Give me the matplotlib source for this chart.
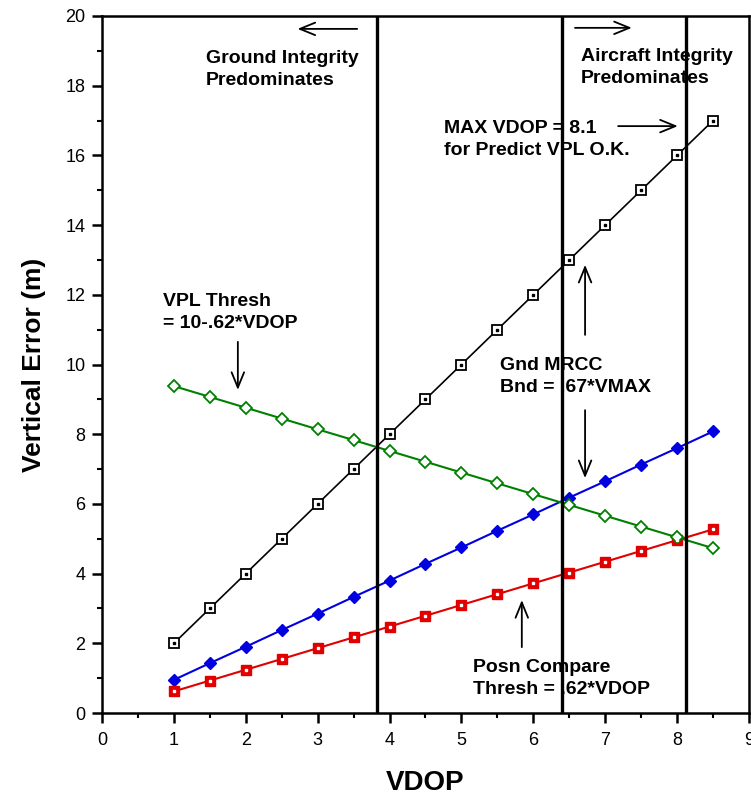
import matplotlib
matplotlib.use("Agg")
import matplotlib.pyplot as plt
from matplotlib.ticker import MultipleLocator

plt.rcParams['font.family'] = ['Liberation Sans', 'DejaVu Sans']

vdop = [1.0, 1.5, 2.0, 2.5, 3.0, 3.5, 4.0, 4.5, 5.0, 5.5, 6.0, 6.5, 7.0, 7.5, 8.0, 8.5]
vpl_predict = [2.0, 3.0, 4.0, 5.0, 6.0, 7.0, 8.0, 9.0, 10.0, 11.0, 12.0, 13.0, 14.0, 15.0, 16.0, 17.0]
gnd_mrcc = [0.95, 1.43, 1.90, 2.38, 2.85, 3.33, 3.80, 4.28, 4.75, 5.23, 5.70, 6.18, 6.65, 7.13, 7.60, 8.08]
posn_compare = [0.62, 0.93, 1.24, 1.55, 1.86, 2.17, 2.48, 2.79, 3.10, 3.41, 3.72, 4.03, 4.34, 4.65, 4.96, 5.27]
vpl_thresh = [9.38, 9.07, 8.76, 8.45, 8.14, 7.83, 7.52, 7.21, 6.90, 6.59, 6.28, 5.97, 5.66, 5.35, 5.04, 4.73]
boundaries = [3.83, 6.40, 8.12]

fig = plt.figure(figsize=(7.51, 8.0), dpi=100)
ax = fig.add_axes([0.1358, 0.10875, 0.8615, 0.87125])

ax.plot(vdop, vpl_predict, color='black', lw=1.2, marker='s', ms=7, mfc='white', mec='black', mew=1.3, zorder=3)
ax.plot(vdop, vpl_predict, ls='none', marker='s', ms=2, mfc='black', mec='black', zorder=4)
ax.plot(vdop, gnd_mrcc, color='#0000e0', lw=1.5, marker='D', ms=6.5, mfc='#0000e0', mec='#0000e0', zorder=3)
ax.plot(vdop, posn_compare, color='#e00000', lw=1.5, marker='s', ms=7, mfc='#e00000', mec='#e00000', zorder=3)
ax.plot(vdop, posn_compare, ls='none', marker='s', ms=1.8, mfc='white', mec='white', zorder=4)
ax.plot(vdop, vpl_thresh, color='#008000', lw=1.5, marker='D', ms=6, mfc='white', mec='#008000', mew=1.3, zorder=3)

for b in boundaries:
    ax.axvline(b, color='black', lw=2.4, zorder=5)

ax.set_xlim(0, 9)
ax.set_ylim(0, 20)
ax.xaxis.set_major_locator(MultipleLocator(1))
ax.xaxis.set_minor_locator(MultipleLocator(0.5))
ax.yaxis.set_major_locator(MultipleLocator(2))
ax.yaxis.set_minor_locator(MultipleLocator(1))
ax.tick_params(which='major', direction='out', length=7, width=1.8, labelsize=13)
ax.tick_params(axis='x', which='major', pad=7)
ax.tick_params(axis='y', which='major', pad=5)
ax.tick_params(which='minor', direction='out', length=3.5, width=1.5)
for s in ax.spines.values():
    s.set_linewidth(1.8)

ax.set_xlabel('VDOP', fontsize=20, fontweight='bold', labelpad=15)
ax.set_ylabel('Vertical Error (m)', fontsize=19, fontweight='bold', labelpad=14)

tkw = dict(fontsize=14, fontweight='bold', va='top', ha='left', linespacing=1.38, zorder=6)
ax.text(1.45, 19.02, 'Ground Integrity\nPredominates', **tkw)
ax.text(6.66, 19.08, 'Aircraft Integrity\nPredominates', **tkw)
ax.text(4.76, 17.02, 'MAX VDOP = 8.1\nfor Predict VPL O.K.', **tkw)
ax.text(0.85, 12.05, 'VPL Thresh\n= 10-.62*VDOP', **tkw)
ax.text(5.53, 10.21, 'Gnd MRCC\nBnd = .67*VMAX', **tkw)
ax.text(5.16, 1.55, 'Posn Compare\nThresh = .62*VDOP', **tkw)

akw = dict(arrowprops=dict(arrowstyle='->,head_length=1.1,head_width=0.45', lw=1.3, color='black', shrinkA=0, shrinkB=0))
ax.annotate('', xy=(2.72, 19.63), xytext=(3.55, 19.63), **akw)
ax.annotate('', xy=(7.37, 19.66), xytext=(6.58, 19.66), **akw)
ax.annotate('', xy=(8.01, 16.84), xytext=(7.18, 16.84), **akw)
ax.annotate('', xy=(1.89, 9.27), xytext=(1.89, 10.65), **akw)
ax.annotate('', xy=(6.72, 12.86), xytext=(6.72, 10.85), **akw)
ax.annotate('', xy=(6.72, 6.74), xytext=(6.72, 8.69), **akw)
ax.annotate('', xy=(5.84, 3.24), xytext=(5.84, 1.89), **akw)

fig.savefig('out.png', dpi=100)
